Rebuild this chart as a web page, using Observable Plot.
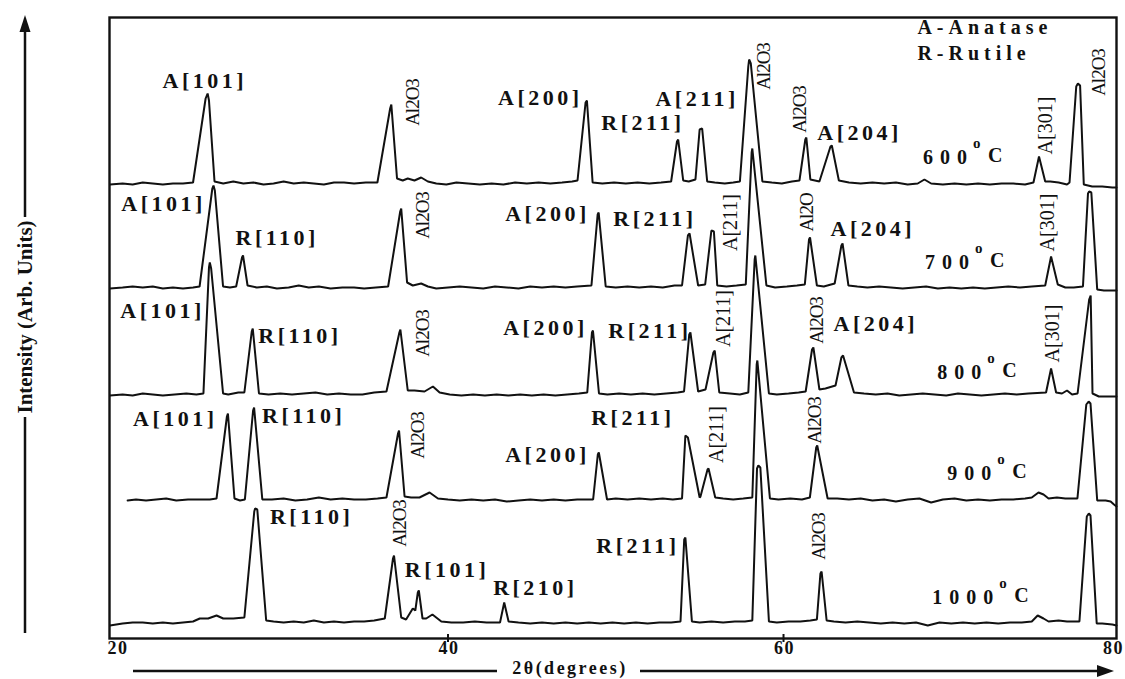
<!DOCTYPE html>
<html><head><meta charset="utf-8">
<script src="https://cdn.jsdelivr.net/npm/d3@7"></script>
<script src="https://cdn.jsdelivr.net/npm/@observablehq/plot@0.6"></script>
<style>
body{margin:0;background:#fff;}
#chart{width:1125px;height:679px;}
g[aria-description="peak-label"] text{letter-spacing:3.5px;}
g[aria-description="phase-label"] text{letter-spacing:-1px;}
g[aria-description="temp-label"] text{letter-spacing:7px;}
g[aria-description="legend"] text{letter-spacing:5px;}
g[aria-description="tick-label"] text{letter-spacing:1.5px;}
</style></head><body><div id="chart"></div>
<script>
// ---- data: 2θ (degrees) and intensity above each pattern's own baseline (arb. units) ----
const temps = ["600", "700", "800", "900", "1000"];
const offsets = [454, 350, 243, 138, 15];
const xTicks = [20, 40, 60, 80];

const trace600 = [
[19.85,0],[20.6,1],[21.2,0],[21.8,2],[22.4,1],[23,0],[23.6,1],[24.2,1],[24.8,2],
[25.55,86],[25.67,91],[25.75,84],[26.08,3],
[26.6,1],[27.2,3],[27.8,1],[28.4,2],[29,0],[29.6,1],[30.2,3],[30.8,1],[31.4,2],[32,1],[32.6,0],[33.2,2],[33.8,2],[34.4,1],[35.1,2],[35.79,2],
[36.55,76],[36.62,80],[36.96,6],
[37.3,4],[37.6,6],[38,4],[38.4,7],[38.8,3],[39.3,1],[39.9,0],[40.5,2],[41.2,1],[41.9,0],[42.6,1],[43.3,0],[44,2],[44.7,1],[45.4,2],[46.1,1],[46.8,2],[47.4,3],[47.72,4],
[48.2,82],[48.28,84],[48.62,2],
[49.2,1],[49.9,2],[50.6,1],[51.3,2],[52,1],[52.7,2],[53.3,3],
[53.65,43],[53.72,45],[54.02,4],
[54.35,3],[54.75,5],[55.0,55],[55.15,56],[55.45,3],
[55.9,2],[56.5,1],[57,2],[57.4,3],
[57.9,118],[57.95,125],[58.05,121],[58.74,3],
[59.3,2],[59.9,1],[60.5,3],[60.95,4],
[61.3,45],[61.36,47],[61.6,5],[62.14,3],
[62.8,38],[62.88,39],[63.3,4],
[63.9,2],[64.6,1],[65.3,2],[66,1],[66.7,2],[67.4,0],[68,1],[68.4,5],[68.8,1],[69.5,0],[70.2,1],[70.9,0],[71.6,1],[72.3,0],[73,1],[73.7,1],[74.4,0],[74.9,2],
[75.23,28],[75.6,3],
[75.9,3],[76.4,2],[76.9,0],[77.05,2],
[77.45,98],[77.55,101],[77.68,99],[77.9,0],
[78.4,-2],[79,-2],[79.6,-3],[79.85,-3]
];

const trace700 = [
[19.85,0],[20.6,1],[21.2,2],[21.8,1],[22.4,2],[23,0],[23.6,1],[24.2,0],[24.8,1],[25.19,2],
[25.95,100],[26.02,103],[26.1,98],[26.59,2],
[27.0,1],[27.37,2],
[27.72,31],[27.78,33],[28.05,3],
[28.6,1],[29.2,2],[29.8,0],[30.5,1],[31.1,3],[31.7,1],[32.3,2],[33,0],[33.7,1],[34.4,1],[35,0],[35.7,1],[36.43,2],
[37.15,77],[37.21,80],[37.56,6],
[37.9,3],[38.4,5],[38.8,2],[39.3,0],[40,1],[40.7,2],[41.4,1],[42.1,0],[42.8,2],[43.5,1],[44.2,0],[44.9,2],[45.6,1],[46.3,2],[47,1],[47.7,2],[48.55,3],
[48.92,74],[48.98,76],[49.4,2],
[50,1],[50.7,2],[51.4,1],[52.1,2],[52.8,1],[53.5,3],[53.95,3],
[54.3,53],[54.4,55],[54.91,3],
[55.33,4],[55.7,58],[55.85,57],[56.05,3],
[56.6,2],[57.2,3],[57.75,4],
[58.1,136],[58.14,140],[58.98,3],
[59.5,1],[60.2,2],[60.8,3],[61.27,4],
[61.52,49],[61.58,51],[61.99,3],
[62.4,2],[63.05,5],
[63.45,43],[63.52,45],[63.87,3],
[64.4,2],[65,1],[65.7,2],[66.4,1],[67.1,0],[67.8,1],[68.5,2],[69.2,0],[69.9,1],[70.6,0],[71.3,1],[72,0],[72.7,1],[73.4,2],[74.1,1],[74.8,2],[75.6,3],
[75.95,32],[76.35,4],
[76.8,1],[77.3,1],[77.85,2],
[78.15,95],[78.22,97],[78.35,96],[78.7,-1],
[79.1,-2],[79.6,-2],[79.85,-2]
];

const trace800 = [
[19.85,0],[20.6,1],[21.2,0],[21.8,2],[22.4,1],[23,0],[23.7,1],[24.4,2],[25.0,1],[25.42,2],
[25.75,128],[25.8,133],[25.88,127],[26.59,2],
[26.9,1],[27.5,3],[27.86,3],
[28.3,64],[28.36,67],[28.73,2],
[29.3,1],[30,2],[30.7,1],[31.4,2],[32.1,3],[32.8,1],[33.5,2],[34.2,1],[34.9,1],[35.6,3],[36.33,4],
[37.1,63],[37.16,66],[37.6,5],
[38,5],[38.6,4],[39.1,9],[39.5,3],[40.1,1],[40.8,0],[41.5,1],[42.2,0],[42.9,1],[43.6,0],[44.3,1],[45,0],[45.7,1],[46.4,0],[47.1,1],[47.8,2],[48.3,3],
[48.58,63],[48.64,65],[49.0,2],
[49.5,1],[50.2,2],[50.9,1],[51.6,2],[52.3,1],[53,2],[53.7,3],[54.07,4],
[54.38,61],[54.45,63],[54.91,4],
[55.35,6],[55.82,43],[55.9,45],[56.17,3],
[56.8,2],[57.4,1],[57.9,3],
[58.28,136],[58.32,140],[59.13,2],
[59.6,1],[60.3,2],[60.9,3],[61.32,4],
[61.7,46],[61.78,48],[62.14,6],
[62.5,7],[63.1,10],
[63.45,38],[63.55,40],[64.2,3],
[64.8,2],[65.5,1],[66.2,2],[66.9,0],[67.6,1],[68.3,2],[69,1],[69.7,0],[70.4,2],[71.1,1],[71.8,0],[72.5,1],[73.2,2],[73.9,1],[74.6,2],[75.65,3],
[75.95,27],[76.25,3],
[76.6,2],[76.9,5],[77.2,1],[77.53,2],
[78.22,96],[78.31,100],[78.42,2],
[78.8,-1],[79.3,-1],[79.85,-1]
];

const trace900 = [
[20.9,0],[21.4,1],[22,0],[22.6,1],[23.2,2],[23.8,0],[24.5,1],[25.2,1],[25.8,1],[26.2,2],
[26.82,84],[26.88,87],[27.27,2],
[27.6,0],[27.89,1],
[28.38,90],[28.44,93],[28.93,1],
[29.5,1],[30.2,2],[30.9,0],[31.6,1],[32.3,3],[33,1],[33.7,2],[34.4,1],[35.1,1],[35.8,2],[36.33,3],
[37.02,67],[37.08,70],[37.41,4],
[37.8,3],[38.3,3],[38.9,8],[39.4,2],[40,1],[40.7,0],[41.4,1],[42.1,0],[42.8,1],[43.5,-1],[44.2,0],[44.9,1],[45.6,0],[46.3,1],[47,0],[47.7,1],[48.65,1],
[48.93,46],[48.99,48],[49.48,1],
[50,2],[50.7,1],[51.4,2],[52.1,1],[52.8,2],[53.4,1],[53.95,2],
[54.15,65],[54.3,63],[55.0,3],
[55.05,4],[55.47,31],[55.53,32],[55.93,3],
[56.4,2],[57,1],[57.6,2],[58.14,3],
[58.4,136],[58.44,140],[59.19,2],
[59.7,1],[60.4,2],[61.1,1],[61.57,3],
[61.95,53],[62.01,55],[62.63,2],
[63.2,2],[63.9,1],[64.6,2],[65.3,0],[66,1],[66.7,-1],[67.4,1],[68.1,2],[68.8,-2],[69.5,1],[70.2,2],[70.9,0],[71.6,1],[72.3,0],[73,1],[73.7,1],[74.4,2],[74.8,3],
[75.2,8],[75.5,6],[75.8,2],[76.3,3],[76.8,2],[77.52,2],
[78.05,96],[78.19,99],[78.3,97],[78.7,0],
[79.2,0],[79.5,-1],[79.7,-4],[79.85,-6]
];

const trace1000 = [
[19.85,-2],[20.6,0],[21.2,1],[21.8,1],[22.4,0],[23,1],[23.6,0],[24.2,1],[24.8,2],[25.2,5],[25.7,5],[26.2,8],[26.6,5],[27.2,5],[27.86,6],
[28.45,112],[28.5,115],[28.63,114],[29.16,3],
[29.6,2],[30.2,1],[30.8,2],[31.4,1],[32,3],[32.6,1],[33.2,2],[33.8,1],[34.4,2],[35,2],[35.6,3],[36.23,5],
[36.72,65],[36.78,68],[37.21,6],
[37.5,4],[37.9,15],[38.05,13],
[38.2,31],[38.26,33],[38.48,5],
[38.7,5],[39.07,9],[39.6,2],[40.2,1],[40.9,1],[41.6,2],[42.3,1],[43.1,1],
[43.35,21],[43.61,2],
[44.2,1],[44.9,0],[45.6,1],[46.3,0],[47,1],[47.7,0],[48.4,1],[49.1,0],[49.8,1],[50.5,0],[51.2,1],[51.9,0],[52.6,1],[53.3,1],[53.86,2],
[54.08,84],[54.15,86],[54.54,2],
[55,1],[55.7,2],[56.4,1],[57.1,2],[57.7,2],[58.14,3],
[58.42,155],[58.5,158],[58.62,156],[59.13,2],
[59.6,1],[60.3,2],[61,2],[61.6,3],[61.99,4],
[62.2,50],[62.27,52],[62.57,3],
[63,2],[63.7,1],[64.4,2],[65.1,1],[65.8,0],[66.5,1],[67.2,0],[67.9,1],[68.6,-2],[69.3,1],[70,0],[70.7,1],[71.4,0],[72.1,1],[72.8,0],[73.5,1],[74.2,1],[74.8,2],
[75.15,8],[75.5,5],[75.8,2],[76.4,3],[76.9,2],[77.64,2],
[78.08,107],[78.2,110],[78.3,108],[78.67,0],
[79,0],[79.6,-1],[79.85,-2]
];

// peak annotations: [text, 2θ, stacked intensity]
const peakLabels = [
["A[101]",25.5,558],["A[200]",45.5,541],["A[211]",54.85,540],["R[211]",51.62,516],["A[204]",64.53,506],
["A[101]",23.04,435],["R[110]",29.82,401],["A[200]",45.93,425],["R[211]",52.34,420],["A[204]",65.32,410],
["A[101]",22.98,328],["R[110]",31.17,303],["A[200]",45.81,311],["R[211]",52.04,308],["A[204]",65.5,315],
["A[101]",23.74,220],["R[110]",31.4,223],["A[200]",45.93,184],["R[211]",51.02,221],
["R[110]",31.87,122],["R[101]",39.94,69],["R[210]",45.21,51],["R[211]",51.32,93]
];
const phaseLabels = [
["Al2O3",37.89,536],["Al2O3",58.86,572],["Al2O3",60.97,529],["Al2O3",78.8,566],
["Al2O3",38.48,423],["Al2O",61.38,426],
["Al2O3",38.48,305],["Al2O3",61.99,318],
["Al2O3",38.19,203],["Al2O3",61.87,218],
["Al2O3",37.13,115],["Al2O3",62.11,102]
];
const rotPeakLabels = [
["A[301]",75.65,513],["A[211]",56.83,416],["A[301]",75.77,416],
["A[211]",56.41,320],["A[301]",76.07,305],["A[211]",55.99,204]
];
const tempLabels = [["600",70.94,481],["700",71.06,376],["800",71.78,266],["900",72.39,165],["1000",72.5,41]];
const legendLines = [["A-Anatase",67.98,611],["R-Rutile",67.98,585]];

// ---- build table ----
const traces = [trace600, trace700, trace800, trace900, trace1000];
const rows = traces.flatMap((tr, i) => tr.map(([a, v]) => ({temp: temps[i], theta: a, intensity: offsets[i] + v})));
const obj = arr => arr.map(([t, x, y]) => ({t, x, y}));

const serif = "'Liberation Serif','Times New Roman',serif";
const ink = "#111";

const svg = Plot.plot({
  width: 1125, height: 679,
  marginLeft: 109, marginRight: 9, marginTop: 17, marginBottom: 41,
  style: {fontFamily: serif, background: "#fff", color: ink},
  x: {domain: [19.82, 79.85], axis: null},
  y: {domain: [0, 621], axis: null},
  marks: [
    Plot.line(rows, {x: "theta", y: "intensity", z: "temp", stroke: ink, strokeWidth: 2, strokeLinejoin: "miter"}),
    Plot.frame({stroke: ink, strokeWidth: 2.4}),
    Plot.ruleX(xTicks.slice(1, -1), {y1: -4, y2: 4, stroke: ink, strokeWidth: 2}),
    Plot.text(xTicks.slice(0, 1), {x: d => d, frameAnchor: "bottom", dy: 15, dx: -5, textAnchor: "start", fontWeight: "bold", fontSize: 18, fill: ink, ariaDescription: "tick-label"}),
    Plot.text(xTicks.slice(1, -1), {x: d => d, frameAnchor: "bottom", dy: 15, dx: 1, fontWeight: "bold", fontSize: 18, fill: ink, ariaDescription: "tick-label"}),
    Plot.text(xTicks.slice(-1), {x: d => d, frameAnchor: "bottom", dy: 15, dx: 5, textAnchor: "end", fontWeight: "bold", fontSize: 18, fill: ink, ariaDescription: "tick-label"}),
    Plot.text(obj(peakLabels), {x: "x", y: "y", text: "t", fontWeight: "bold", fontSize: 22, fill: ink, ariaDescription: "peak-label"}),
    Plot.text(obj(phaseLabels), {x: "x", y: "y", text: "t", rotate: -90, fontSize: 19, fill: ink, ariaDescription: "phase-label"}),
    Plot.text(obj(rotPeakLabels), {x: "x", y: "y", text: "t", rotate: -90, fontSize: 20, fill: ink}),
    Plot.text(obj(tempLabels), {x: "x", y: "y", text: "t", textAnchor: "end", dx: 7, fontWeight: "bold", fontSize: 20, fill: ink, ariaDescription: "temp-label"}),
    Plot.text(obj(tempLabels), {x: "x", y: "y", text: () => "o", textAnchor: "start", dx: 6, dy: -14, fontWeight: "bold", fontSize: 15, fill: ink}),
    Plot.text(obj(tempLabels), {x: "x", y: "y", text: () => "C", textAnchor: "start", dx: 21, dy: -2, fontWeight: "bold", fontSize: 20, fill: ink}),
    Plot.text(obj(legendLines), {x: "x", y: "y", text: "t", textAnchor: "start", fontWeight: "bold", fontSize: 20, fill: ink, ariaDescription: "legend"})
  ]
});

// axis titles with arrow rules (decoration)
const g = d3.select(svg).append("g").attr("fill", ink).attr("stroke", ink);
g.append("line").attr("x1", 25).attr("x2", 25).attr("y1", 30).attr("y2", 217).attr("stroke-width", 2.5);
g.append("path").attr("d", "M25,15L19.5,32L30.5,32Z").attr("stroke", "none");
g.append("line").attr("x1", 25).attr("x2", 25).attr("y1", 417).attr("y2", 633).attr("stroke-width", 2.5);
g.append("text").attr("transform", "translate(25,317) rotate(-90)").attr("text-anchor", "middle")
  .attr("dominant-baseline", "central").attr("stroke", "none").attr("font-weight", "bold")
  .attr("font-size", 21).attr("font-family", serif).text("Intensity (Arb. Units)");
g.append("line").attr("x1", 133).attr("x2", 497).attr("y1", 671).attr("y2", 671).attr("stroke-width", 2.5);
g.append("line").attr("x1", 640).attr("x2", 1100).attr("y1", 671).attr("y2", 671).attr("stroke-width", 2.5);
g.append("path").attr("d", "M1114,671L1097,665L1097,677Z").attr("stroke", "none");
g.append("text").attr("x", 570).attr("y", 668).attr("text-anchor", "middle").attr("dominant-baseline", "central")
  .attr("stroke", "none").attr("font-weight", "bold").attr("font-size", 18).attr("letter-spacing", "2.5px")
  .attr("font-family", serif).text("2θ(degrees)");

document.getElementById("chart").appendChild(svg);
</script></body></html>
